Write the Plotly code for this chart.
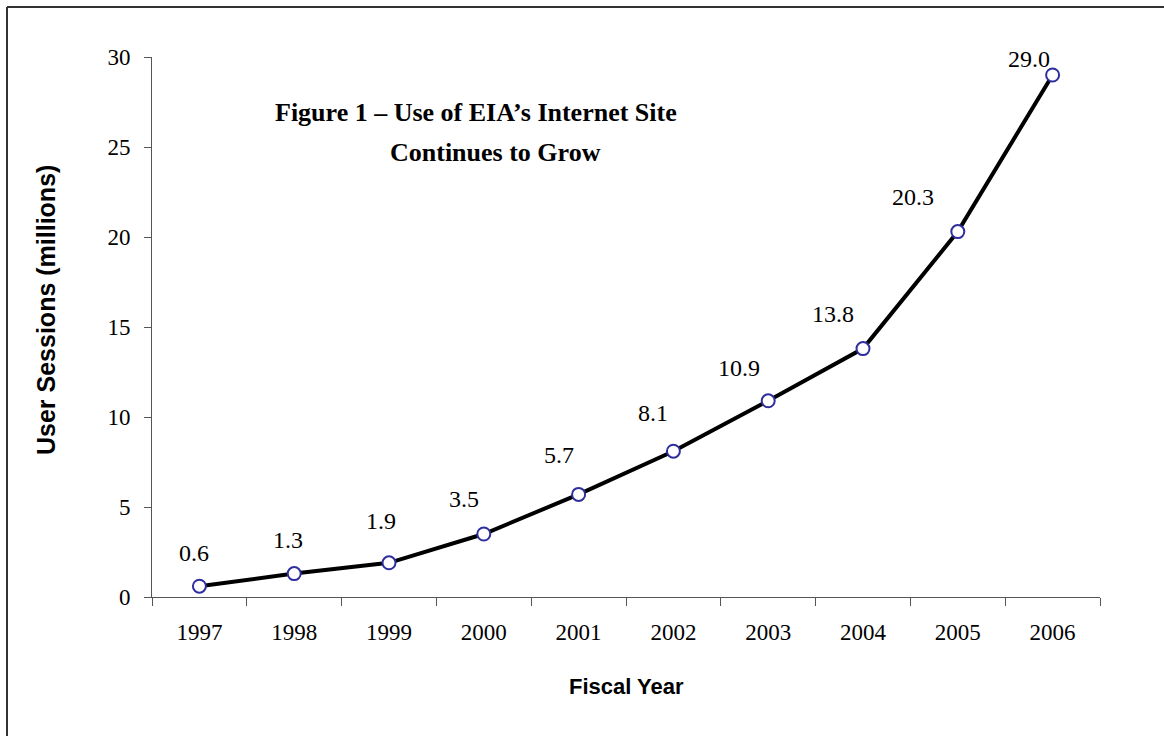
import plotly.graph_objects as go

# ---- data ----
years = ["1997", "1998", "1999", "2000", "2001", "2002", "2003", "2004", "2005", "2006"]
sessions = [0.6, 1.3, 1.9, 3.5, 5.7, 8.1, 10.9, 13.8, 20.3, 29.0]
labels = ["0.6", "1.3", "1.9", "3.5", "5.7", "8.1", "10.9", "13.8", "20.3", "29.0"]
y_ticks = [0, 5, 10, 15, 20, 25, 30]

# label offsets in pixels (style only)
label_dx = [-5, -6, -8, -20, -20, -20, -29, -30, -45, -24]
label_dy = [33, 34, 42, 35, 39, 38, 33, 35, 35, 16]

W, H = 1164, 736
L, R, T, B = 152, 64, 57, 139
pw, ph = W - L - R, H - T - B

def px(x):
    return (x - L) / pw

def py(y):
    return (H - B - y) / ph

SERIF = "Liberation Serif, Times New Roman, serif"
SANS = "Liberation Sans, Arial, sans-serif"

fig = go.Figure()
fig.add_trace(go.Scatter(
    x=years, y=sessions, mode="lines+markers",
    line=dict(color="black", width=4),
    marker=dict(symbol="circle", size=13, color="white",
                line=dict(color="#2E2E9E", width=2)),
    hoverinfo="x+y", showlegend=False,
))

annotations = []
for i, (y, t, dx, dy) in enumerate(zip(sessions, labels, label_dx, label_dy)):
    annotations.append(dict(
        x=i, y=y, xref="x", yref="y", text=t, showarrow=False,
        xanchor="center", yanchor="middle", xshift=dx, yshift=dy,
        font=dict(family=SERIF, size=24, color="black"),
    ))

# title (two lines)
annotations.append(dict(
    x=px(476), y=py(112), xref="paper", yref="paper", showarrow=False,
    text="<b>Figure 1 – Use of EIA’s Internet Site</b>",
    xanchor="center", yanchor="middle",
    font=dict(family=SERIF, size=26, color="black"),
))
annotations.append(dict(
    x=px(495), y=py(152), xref="paper", yref="paper", showarrow=False,
    text="<b>Continues to Grow</b>",
    xanchor="center", yanchor="middle",
    font=dict(family=SERIF, size=26, color="black"),
))
# axis titles
annotations.append(dict(
    x=px(626), y=py(686), xref="paper", yref="paper", showarrow=False,
    text="<b>Fiscal Year</b>", xanchor="center", yanchor="middle",
    font=dict(family=SANS, size=22, color="black"),
))
annotations.append(dict(
    x=px(46), y=py(310), xref="paper", yref="paper", showarrow=False,
    text="<b>User Sessions (millions)</b>", textangle=-90,
    xanchor="center", yanchor="middle",
    font=dict(family=SANS, size=25, color="black"),
))

shapes = [
    # outer frame (left and top edges visible)
    dict(type="line", xref="paper", yref="paper",
         x0=px(7), y0=py(7), x1=px(W + 20), y1=py(7),
         line=dict(color="#333333", width=2)),
    dict(type="line", xref="paper", yref="paper",
         x0=px(7), y0=py(7), x1=px(7), y1=py(H + 20),
         line=dict(color="#333333", width=2)),
]

fig.update_layout(
    width=W, height=H,
    margin=dict(l=L, r=R, t=T, b=B),
    paper_bgcolor="white", plot_bgcolor="white",
    annotations=annotations, shapes=shapes,
    xaxis=dict(
        type="category", range=[-0.5, len(years) - 0.5],
        showgrid=False, zeroline=False,
        showline=True, linecolor="#555555", linewidth=1,
        ticks="outside", ticklen=8, tickcolor="#555555", tickwidth=1,
        tickson="boundaries", ticklabelstandoff=14, tickangle=0,
        tickfont=dict(family=SERIF, size=23, color="black"),
    ),
    yaxis=dict(
        range=[0, 30], tickvals=y_ticks, showgrid=False, zeroline=False,
        showline=True, linecolor="#555555", linewidth=1,
        ticks="outside", ticklen=7, tickcolor="#555555", tickwidth=1,
        ticklabelstandoff=9,
        tickfont=dict(family=SERIF, size=23, color="black"),
    ),
)

fig.write_html("out.html")
